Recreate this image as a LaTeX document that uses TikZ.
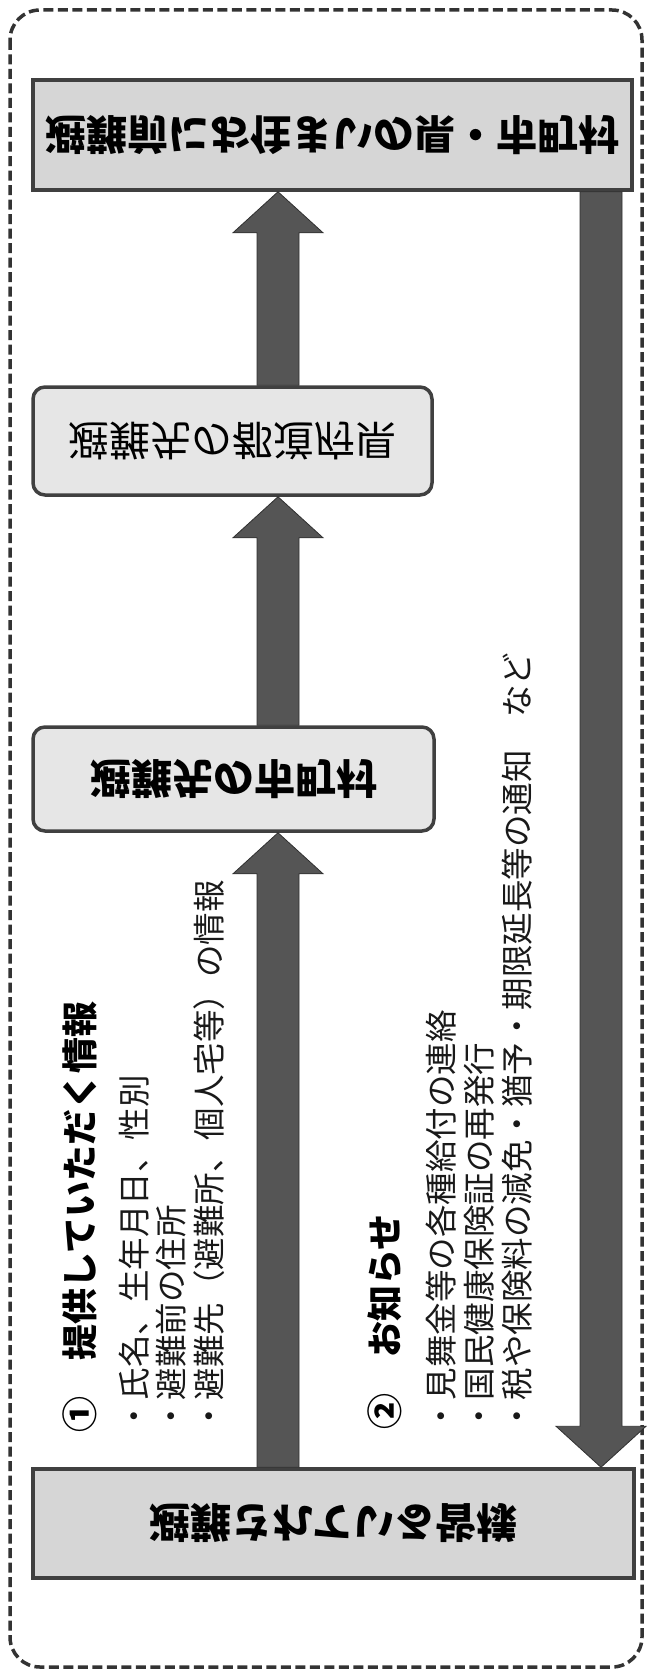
\documentclass[tikz,border=0pt]{standalone}
\usepackage{graphicx}
\usepackage{fontspec}
\newfontfamily\jp{Noto Sans CJK JP}
\usetikzlibrary{calc}
\definecolor{boxline}{HTML}{404040}
\definecolor{fillA}{HTML}{D6D6D6}
\definecolor{fillB}{HTML}{E6E6E6}
\definecolor{arrowgray}{HTML}{555555}
\definecolor{arrowline}{HTML}{303030}
\definecolor{framecol}{HTML}{333333}
\newcommand{\myflipv}[1]{\scalebox{1}[-1]{#1}}
\newcommand{\myfatarrow}[3]{%
  \draw[fatarr] ($(#1)+(-21,0)$) -- ($(#2)+(-21,#3*41)$) -- ($(#2)+(-45,#3*41)$) -- (#2) -- ($(#2)+(45,#3*41)$) -- ($(#2)+(21,#3*41)$) -- ($(#1)+(21,0)$) -- cycle;}
\begin{document}
\begin{tikzpicture}[x=1pt,y=-1pt,
  outerframe/.style={draw=framecol, line width=3.5pt, dash pattern=on 10pt off 4.5pt, rounded corners=30pt},
  sqbox/.style={draw=boxline, line width=3.5pt, fill=fillA, inner sep=0pt},
  rndbox/.style={draw=boxline, line width=3.5pt, fill=fillB, rounded corners=12pt, inner sep=0pt},
  boxfont/.style={font=\jp\fontsize{41}{41}\selectfont},
  fatarr/.style={fill=arrowgray, draw=arrowline, line width=0.8pt, line join=miter},
  sidetext/.style={rotate=90, anchor=west, inner sep=0pt, text=black!90, font=\jp\fontsize{32.5}{33}\selectfont},
  sidehead/.style={rotate=90, anchor=west, inner sep=0pt, font=\jp\bfseries\fontsize{36}{36}\selectfont}]
\useasboundingbox (0,0) rectangle (647,1675);
\draw[outerframe] (10,10) rectangle (642,1667);

% boxes
\node[sqbox, boxfont, minimum width=599pt, minimum height=110pt] (pre) at (332.5,135)
  {\myflipv{\bfseries 避難前にお住まいの県・市町村}};
\node[rndbox, boxfont, minimum width=399pt, minimum height=108pt] (pref) at (232.5,441)
  {\myflipv{避難先の都道府県}};
\node[rndbox, boxfont, minimum width=401pt, minimum height=104pt] (muni) at (233.5,779)
  {\myflipv{\bfseries 避難先の市町村}};
\node[sqbox, boxfont, minimum width=601pt, minimum height=109pt] (bot) at (333.5,1523.5)
  {\myflipv{\bfseries 避難されている皆様}};

% arrows
\coordinate (colL) at (278,0);
\coordinate (colR) at (601,0);
\coordinate (a1s) at (bot.north -| colL);
\coordinate (a1e) at (muni.south -| colL);
\coordinate (a2s) at (muni.north -| colL);
\coordinate (a2e) at (pref.south -| colL);
\coordinate (a3s) at (pref.north -| colL);
\coordinate (a3e) at (pre.south -| colL);
\coordinate (a4s) at (pre.south -| colR);
\coordinate (a4e) at (bot.north -| colR);
\myfatarrow{a1s}{a1e}{1}
\myfatarrow{a2s}{a2e}{1}
\myfatarrow{a3s}{a3e}{1}
\myfatarrow{a4s}{a4e}{-1}

% side texts
\node[sidehead] (h1) at (80,1433) {①　提供していただく情報};
\node[sidetext] (l11) at (134,1433) {・氏名、生年月日、性別};
\node[sidetext] (l12) at (171,1433) {・避難前の住所};
\node[sidetext] (l13) at (209,1433) {・避難先（避難所、個人宅等）の情報};
\node[sidehead] (h2) at (385,1430) {②　お知らせ};
\node[sidetext] (l21) at (441,1433) {・見舞金等の各種給付の連絡};
\node[sidetext] (l22) at (479,1433) {・国民健康保険証の再発行};
\node[sidetext] (l23) at (517,1433) {・税や保険料の減免・猶予・期限延長等の通知　など};
\end{tikzpicture}
\end{document}
